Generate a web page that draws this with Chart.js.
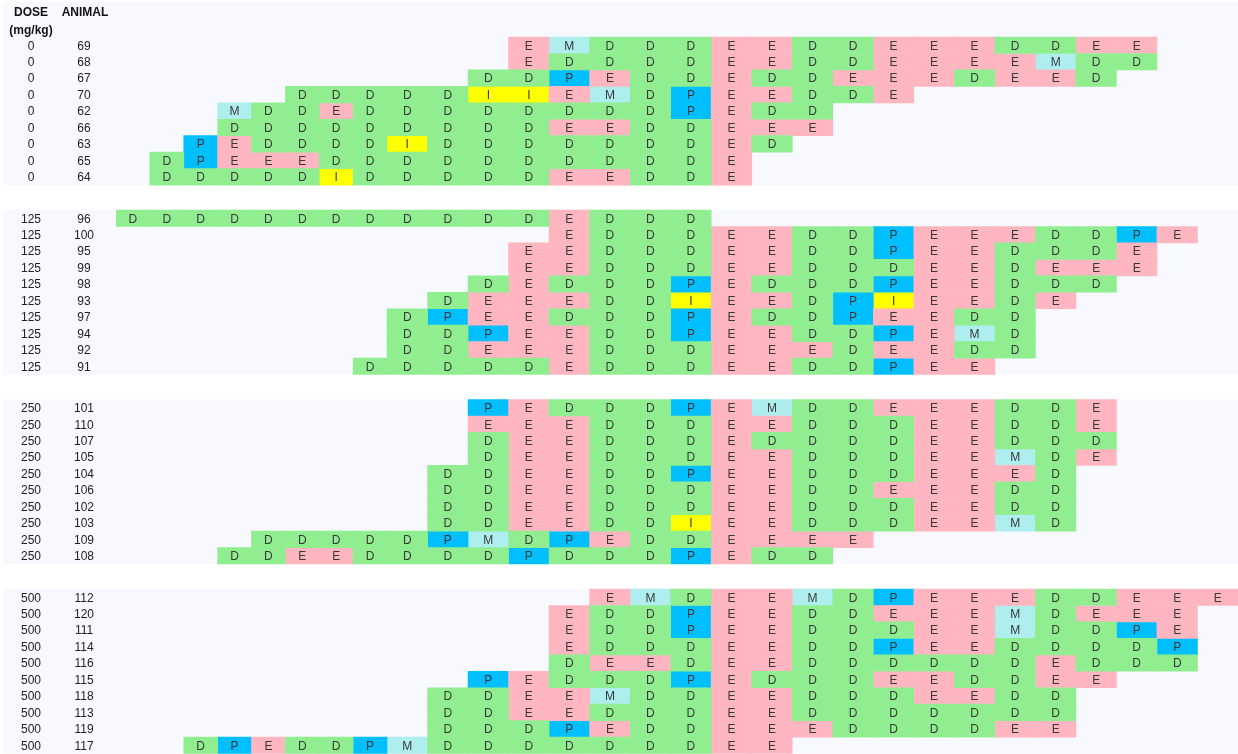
<!DOCTYPE html>
<html lang="en">
<head>
<meta charset="UTF-8">
<title>Cycle stage by dose and animal</title>
<script src="https://cdn.jsdelivr.net/npm/chart.js"></script>
<style>
  body { margin: 0; background: #fff; }
  canvas { display: block; }
</style>
</head>
<body>
<canvas id="stageChart" width="1238" height="754"></canvas>
<script>
// dose (mg/kg) and animal id, one entry per row
const doses = [0, 0, 0, 0, 0, 0, 0, 0, 0,
  125, 125, 125, 125, 125, 125, 125, 125, 125, 125,
  250, 250, 250, 250, 250, 250, 250, 250, 250, 250,
  500, 500, 500, 500, 500, 500, 500, 500, 500, 500];
const animals = [69, 68, 67, 70, 62, 66, 63, 65, 64,
  96, 100, 95, 99, 98, 93, 97, 94, 92, 91,
  101, 110, 107, 105, 104, 106, 102, 103, 109, 108,
  112, 120, 111, 114, 116, 115, 118, 113, 119, 117];
// column of the first smear for each animal
const firstDay = [11, 11, 10, 5, 3, 3, 2, 1, 1,
  0, 12, 11, 11, 10, 9, 8, 8, 8, 7,
  10, 10, 10, 10, 9, 9, 9, 9, 4, 3,
  13, 12, 12, 12, 12, 10, 9, 9, 9, 2];
// daily stage calls: D diestrus, E estrus, P proestrus, M metestrus, I indeterminate
const stages = [
  'EMDDDEEDDEEEDDEE', 'EDDDDEEDDEEEEMDD', 'DDPEDDEDDEEEDEED',
  'DDDDDIIEMDPEEDDE', 'MDDEDDDDDDDDPEDD', 'DDDDDDDDDEEDDEEE',
  'PEDDDDIDDDDDDDED', 'DPEEEDDDDDDDDDDE', 'DDDDDIDDDDDEEDDE',

  'DDDDDDDDDDDDEDDD', 'EDDDEEDDPEEEDDPE', 'EEDDDEEDDPEEDDDE',
  'EEDDDEEDDDEEDEEE', 'DEDDDPEDDDPEEDDD', 'DEEEDDIEEDPIEEDE',
  'DPEEDDDPEDDPEEDD', 'DDPEEDDPEEDDPEMD', 'DDEEEDDDEEEDEEDD',
  'DDDDDEDDDEEDDPEE',

  'PEDDDPEMDDEEEDDE', 'EEEDDDEEDDDEEDDE', 'DEEDDDEDDDDEEDDD',
  'DEEDDDEEDDDEEMDE', 'DDEEDDPEEDDDEEED', 'DDEEDDDEEDDEEEDD',
  'DDEEDDDEEDDDEEDD', 'DDEEDDIEEDDDEEMD', 'DDDDDPMDPEDDEEEE',
  'DDEEDDDDPDDDPEDD',

  'EMDEEMDPEEEDDEEE', 'EDDPEEDDEEEMDEEE', 'EDDPEEDDDEEMDDPE',
  'EDDDEEDDPEEDDDDP', 'DEEDEEDDDDDDEDDD', 'PEDDDPEDDDEEDDEE',
  'DDEEMDDEEDDDEEDD', 'DDEEDDDEEDDDDDDD', 'DDDPEDDEEEDDDDEE',
  'DPEDDPMDDDDDDDEE'
];

const stageColors = { D: '#90ee90', E: '#ffb6c1', P: '#00bfff', M: '#afeeee', I: '#ffff00' };

// the first eight day columns are narrower than the others
const NARROW_DAYS = 8;
const NARROW_W = 0.836;
const GROUP_GAP = 1.52;
function dayEdge(d) {
  return d <= NARROW_DAYS ? d * NARROW_W : NARROW_DAYS * NARROW_W + (d - NARROW_DAYS);
}
const lastDay = Math.max(...stages.map((s, i) => firstDay[i] + s.length));

// one unit per animal, plus a gap between dose groups
const rowPos = [];
const groupStarts = [0];
let group = 0;
doses.forEach((d, i) => {
  if (i > 0 && d !== doses[i - 1]) { group++; groupStarts.push(i); }
  rowPos.push(i + group * GROUP_GAP);
});

const datasets = Object.keys(stageColors).map(code => ({
  label: code,
  data: [],
  backgroundColor: stageColors[code],
  borderWidth: 0,
  grouped: false,
  barPercentage: 1,
  categoryPercentage: 1
}));
stages.forEach((calls, i) => {
  [...calls].forEach((code, k) => {
    const day = firstDay[i] + k;
    datasets.find(ds => ds.label === code).data.push({
      x: [dayEdge(day), dayEdge(day + 1)],
      y: rowPos[i]
    });
  });
});

const FONT = '"Liberation Sans", Arial, sans-serif';

// shaded band behind each dose group, plus the row labels on the left
const rowLabels = {
  id: 'rowLabels',
  beforeDatasetsDraw(chart) {
    const { ctx, scales: { y } } = chart;
    ctx.save();
    ctx.fillStyle = '#f8f9fe';
    groupStarts.forEach((s, g) => {
      const e = g + 1 < groupStarts.length ? groupStarts[g + 1] - 1 : doses.length - 1;
      const top = g === 0 ? 2 : y.getPixelForValue(rowPos[s] - 0.5);
      const bottom = y.getPixelForValue(rowPos[e] + 0.5);
      ctx.fillRect(3, top, chart.width - 3, bottom - top);
    });

    ctx.textAlign = 'center';
    ctx.textBaseline = 'middle';
    ctx.fillStyle = '#111';
    ctx.font = 'bold 12px ' + FONT;
    ctx.fillText('DOSE', 31, y.getPixelForValue(-1.98));
    ctx.fillText('ANIMAL', 85, y.getPixelForValue(-1.98));
    ctx.fillText('(mg/kg)', 31, y.getPixelForValue(-0.88));

    ctx.fillStyle = '#222';
    ctx.font = '12px ' + FONT;
    doses.forEach((d, i) => {
      const py = y.getPixelForValue(rowPos[i]) + 1;
      ctx.fillText(String(d), 31, py);
      ctx.fillText(String(animals[i]), 84, py);
    });
    ctx.restore();
  }
};

// stage letter in the middle of each cell
const cellText = {
  id: 'cellText',
  afterDatasetsDraw(chart) {
    const ctx = chart.ctx;
    ctx.save();
    ctx.font = '12px ' + FONT;
    ctx.fillStyle = '#383838';
    ctx.textAlign = 'center';
    ctx.textBaseline = 'middle';
    chart.data.datasets.forEach((ds, i) => {
      chart.getDatasetMeta(i).data.forEach(bar => {
        const c = bar.getCenterPoint();
        ctx.fillText(ds.label, c.x, c.y + 1);
      });
    });
    ctx.restore();
  }
};

new Chart(document.getElementById('stageChart'), {
  type: 'bar',
  data: { datasets },
  options: {
    responsive: false,
    animation: false,
    indexAxis: 'y',
    layout: { padding: { left: 116, right: 0, top: 0, bottom: 0 } },
    scales: {
      x: { type: 'linear', min: 0, max: dayEdge(lastDay), display: false, offset: false },
      y: {
        type: 'linear', reverse: true, min: -2.75, max: 43.09, display: false, offset: false,
        ticks: { stepSize: 1, includeBounds: false }
      }
    },
    plugins: {
      legend: { display: false },
      tooltip: { enabled: false }
    }
  },
  plugins: [rowLabels, cellText]
});
</script>
</body>
</html>
